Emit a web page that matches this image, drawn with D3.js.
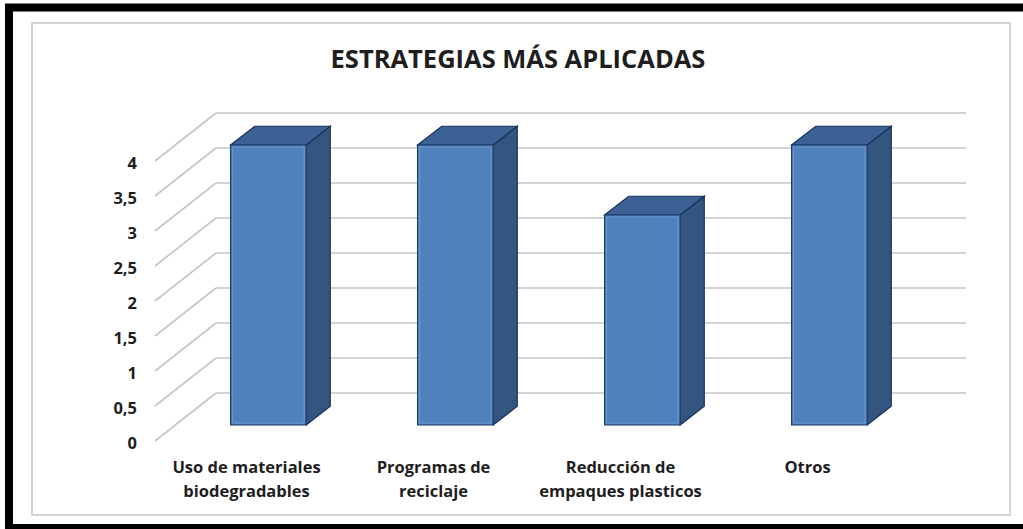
<!DOCTYPE html>
<html>
<head>
<meta charset="utf-8">
<script src="https://cdn.jsdelivr.net/npm/d3@7"></script>
<style>
  html, body { margin: 0; background: #fff; overflow: hidden; }
  svg { display: block; }
  svg text { font-family: "Open Sans", Lato, sans-serif; font-weight: bold; fill: #1e1e1e; }
</style>
</head>
<body>
<script>
// data
var categories = ["Uso de materiales biodegradables", "Programas de reciclaje", "Reducción de empaques plasticos", "Otros"];
var labelLines = [["Uso de materiales", "biodegradables"], ["Programas de", "reciclaje"], ["Reducción de", "empaques plasticos"], ["Otros"]];
var values = [4, 4, 3, 4];
var yTicks = [0, 0.5, 1, 1.5, 2, 2.5, 3, 3.5, 4];
var titleText = "ESTRATEGIAS MÁS APLICADAS";

var W = 1023, H = 529;
var depth = {x: 63, y: 49};      // floor depth offset (front -> back wall)
var barD = [0.347, 0.73];        // bar front / back position inside the depth

var svg = d3.select("body").append("svg")
  .attr("width", W).attr("height", H);

// outer black frame and inner chart area
svg.append("rect").attr("x", 9).attr("y", 7.5).attr("width", 1030).attr("height", 520.5)
  .attr("fill", "#fff").attr("stroke", "#000").attr("stroke-width", 8);
svg.append("rect").attr("x", 32).attr("y", 23).attr("width", 978).attr("height", 492)
  .attr("fill", "#fff").attr("stroke", "#d4d4d4").attr("stroke-width", 2);

var x = d3.scaleBand().domain(categories).range([153, 901]);
var y = d3.scaleLinear().domain([0, 4]).range([442, 162]);

function proj(px, v, d) { return [px + depth.x * d, y(v) - depth.y * d]; }

// title
svg.append("text").attr("x", 518).attr("y", 68).attr("text-anchor", "middle")
  .style("font-size", "25.5px").text(titleText);

// gridlines: diagonal on the floor side + back wall
var grid = svg.append("g").attr("stroke", "#c6c6c6").attr("stroke-width", 1.6).attr("fill", "none");
grid.selectAll(".diag").data(yTicks).join("line")
  .attr("x1", function(d) { return proj(x.range()[0], d, 0)[0] + 2; })
  .attr("y1", function(d) { return proj(x.range()[0], d, 0)[1] - 1; })
  .attr("x2", function(d) { return proj(x.range()[0], d, 1)[0]; })
  .attr("y2", function(d) { return proj(x.range()[0], d, 1)[1]; });
grid.selectAll(".back").data(yTicks).join("line")
  .attr("x1", function(d) { return proj(x.range()[0], d, 1)[0]; })
  .attr("y1", function(d) { return proj(x.range()[0], d, 1)[1]; })
  .attr("x2", function(d) { return proj(x.range()[1], d, 1)[0] + 2; })
  .attr("y2", function(d) { return proj(x.range()[1], d, 1)[1]; });

// y labels
svg.append("g").selectAll("text").data(yTicks).join("text")
  .attr("x", 137).attr("y", function(d) { return y(d) + 6.5; })
  .attr("text-anchor", "end").style("font-size", "16.5px")
  .text(function(d) { return String(d).replace(".", ","); });

// 3d bars
var bw = x.bandwidth() * 0.404;
var bars = svg.append("g").selectAll("g").data(values).join("g");
function pts(arr) { return arr.map(function(p) { return p.join(","); }).join(" "); }
function xl(i) { return x(categories[i]) + (x.bandwidth() - bw) / 2; }

bars.append("polygon").attr("fill", "#34557f").attr("stroke", "#18335a").attr("stroke-width", 1.2)
  .attr("points", function(v, i) {
    var r = xl(i) + bw;
    return pts([proj(r, 0, barD[0]), proj(r, 0, barD[1]), proj(r, v, barD[1]), proj(r, v, barD[0])]);
  });
bars.append("polygon").attr("fill", "#3c6194").attr("stroke", "#18335a").attr("stroke-width", 1.2)
  .attr("points", function(v, i) {
    var l = xl(i), r = l + bw;
    return pts([proj(l, v, barD[0]), proj(r, v, barD[0]), proj(r, v, barD[1]), proj(l, v, barD[1])]);
  });
bars.append("polygon").attr("fill", "#4f81bd").attr("stroke", "#1f3d66").attr("stroke-width", 1.2)
  .attr("points", function(v, i) {
    var l = xl(i), r = l + bw;
    return pts([proj(l, 0, barD[0]), proj(r, 0, barD[0]), proj(r, v, barD[0]), proj(l, v, barD[0])]);
  });
// light inner bevel on the front face
bars.append("polygon").attr("fill", "none").attr("stroke", "#6e98cc").attr("stroke-width", 1)
  .attr("points", function(v, i) {
    var l = xl(i) + 2, r = xl(i) + bw - 2;
    var b = proj(l, 0, barD[0])[1] - 2, t = proj(l, v, barD[0])[1] + 2;
    var o = depth.x * barD[0];
    return pts([[l + o, b], [r + o, b], [r + o, t], [l + o, t]]);
  });

// category labels
var cl = svg.append("g").selectAll("text").data(labelLines).join("text")
  .attr("text-anchor", "middle").style("font-size", "16.5px")
  .attr("transform", function(d, i) { return "translate(" + (x(categories[i]) + x.bandwidth() / 2) + ",473)"; });
cl.selectAll("tspan").data(function(d) { return d; }).join("tspan")
  .attr("x", 0).attr("y", function(d, j) { return j * 23.5; })
  .text(function(d) { return d; });
</script>
</body>
</html>
